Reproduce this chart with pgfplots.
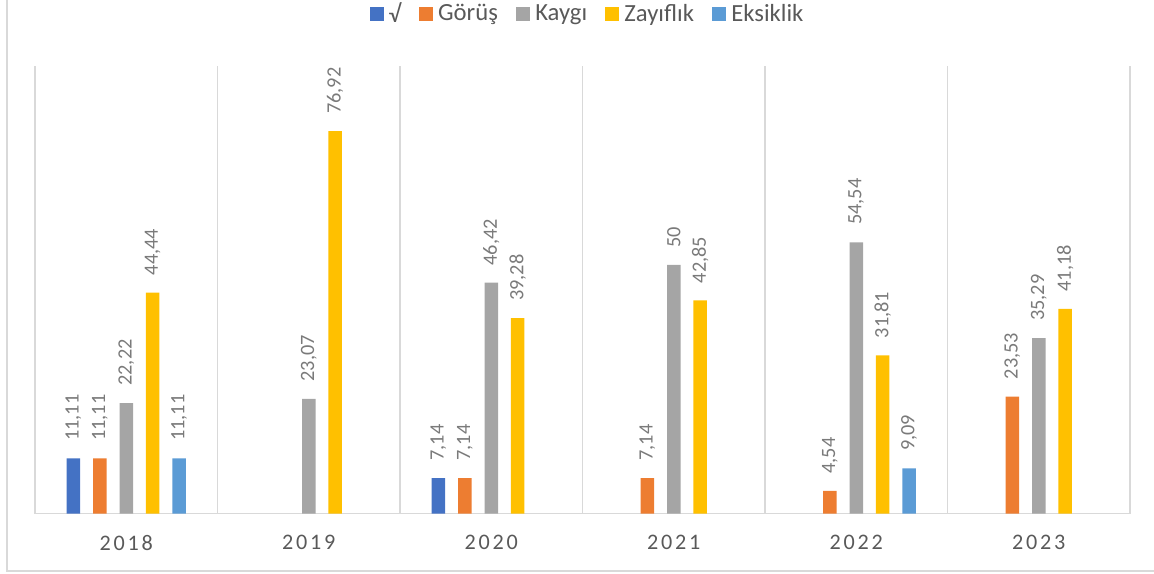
\documentclass[border=0pt]{standalone}
\usepackage{fontspec}
\setmainfont{Carlito}
\newfontfamily\spaced[LetterSpace=12.5]{Carlito}
\usepackage{pgfplots}
\pgfplotsset{compat=1.18}
\definecolor{c1}{HTML}{4472C4}
\definecolor{c2}{HTML}{ED7D31}
\definecolor{c3}{HTML}{A5A5A5}
\definecolor{c4}{HTML}{FFC000}
\definecolor{c5}{HTML}{5B9BD5}
\definecolor{gridc}{HTML}{D9D9D9}
\definecolor{tickc}{HTML}{595959}
\definecolor{lblc}{HTML}{7A7A7A}
\pgfplotsset{sqleg/.style={legend image code/.code={\fill[##1] (0pt,-4.2pt) rectangle (8.4pt,4.2pt);}}}
\newcommand{\lgsp}{\hspace{3pt}}
\begin{document}
\begin{tikzpicture}
\useasboundingbox (-21pt,-35.7pt) rectangle (671.4pt,308.1pt);
\draw[gridc, line width=0.8pt] (-16.8pt,320pt) -- (-16.8pt,-34.5pt) -- (690pt,-34.5pt);
\begin{axis}[
  at={(0,0)}, anchor=south west,
  width=657pt, height=268.5pt, scale only axis,
  xmin=-0.5, xmax=5.5, ymin=0, ymax=90,
  axis line style={draw=none},
  ytick=\empty,
  xtick={0,1,2,3,4,5},
  xticklabels={2018,2019,2020,2021,2022,2023},
  major tick length=0pt,
  xticklabel style={font=\spaced\fontsize{13.3}{15}\selectfont, text=tickc, inner sep=0pt, yshift=-12.9pt},
  extra x ticks={-0.5,0.5,1.5,2.5,3.5,4.5,5.5},
  extra x tick labels={},
  extra x tick style={grid=major},
  extra y ticks={0},
  extra y tick labels={},
  extra y tick style={grid=major},
  major grid style={draw=gridc, line width=0.75pt},
  ybar, bar width=8.1pt,
  nodes near coords,
  every node near coord/.append style={rotate=90, anchor=west, font=\fontsize{12.2}{14}\selectfont, text=lblc, inner xsep=10.2pt, inner ysep=0pt},
  /pgf/number format/.cd, use comma, fixed, precision=2, assume math mode=true, /pgfplots/.cd,
  legend columns=-1,
  legend style={at={(0.5,1)}, anchor=center, yshift=31.2pt, xshift=2.4pt, draw=none, fill=none,
    font=\fontsize{14.8}{17}\selectfont, text=tickc,
    /tikz/every even column/.append style={column sep=11pt},
    /tikz/every odd column/.append style={column sep=0pt},
    nodes={inner xsep=0pt, inner ysep=0pt}},
]
\addplot[fill=c1, draw=none, bar shift=-31.68pt, sqleg] coordinates {(0,11.11) (2,7.14)};
\addplot[fill=c2, draw=none, bar shift=-15.84pt, sqleg] coordinates {(0,11.11) (2,7.14) (3,7.14) (4,4.54) (5,23.53)};
\addplot[fill=c3, draw=none, bar shift=0pt, sqleg] coordinates {(0,22.22) (1,23.07) (2,46.42) (3,50) (4,54.54) (5,35.29)};
\addplot[fill=c4, draw=none, bar shift=15.84pt, sqleg] coordinates {(0,44.44) (1,76.92) (2,39.28) (3,42.85) (4,31.81) (5,41.18)};
\addplot[fill=c5, draw=none, bar shift=31.68pt, sqleg] coordinates {(0,11.11) (4,9.09)};
\legend{\lgsp √,\lgsp Görüş,\lgsp Kaygı,\lgsp Zayıflık,\lgsp Eksiklik}
\end{axis}
\end{tikzpicture}
\end{document}
